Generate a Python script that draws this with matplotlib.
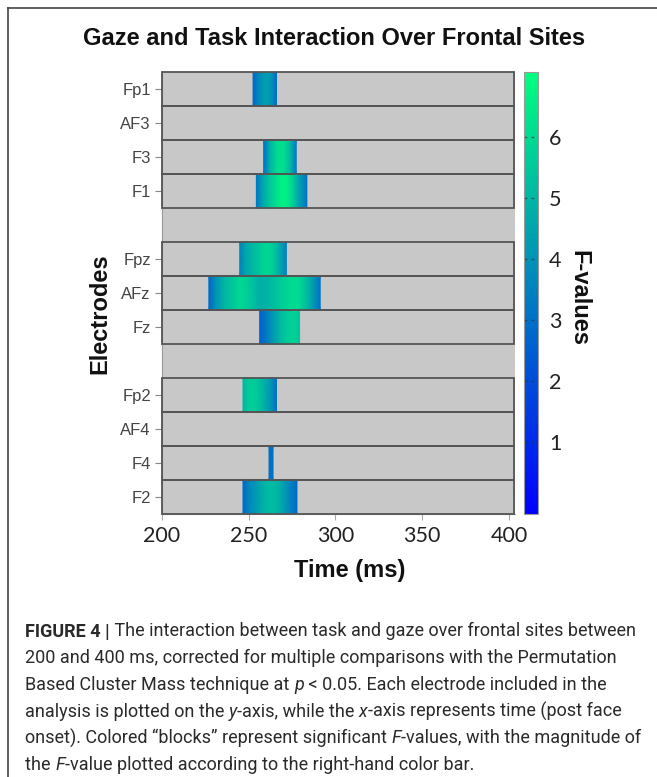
import matplotlib
matplotlib.use('Agg')
import matplotlib.pyplot as plt
import numpy as np
from matplotlib.patches import Rectangle
from matplotlib.lines import Line2D
from matplotlib.colors import Normalize
from matplotlib.cm import ScalarMappable

W, H = 657, 777

# electrode rows, top to bottom ('' = spacer row)
electrodes = ['Fp1', 'AF3', 'F3', 'F1', '', 'Fpz', 'AFz', 'Fz', '', 'Fp2', 'AF4', 'F4', 'F2']

# significant clusters: sample times (ms) and F-values
fp1_t = [252.5, 256, 260, 263, 266]
fp1_f = [2.8, 3.8, 4.4, 4.0, 2.9]
f3_t = [258.6, 262, 266, 270, 274, 277.4]
f3_f = [3.0, 4.8, 6.0, 6.2, 5.0, 3.2]
f1_t = [254.4, 258, 262, 266, 270, 274, 278, 283.5]
f1_f = [3.2, 4.5, 5.5, 6.2, 6.8, 6.2, 4.8, 3.0]
fpz_t = [244.8, 248, 252, 256, 260, 264, 268, 271.7]
fpz_f = [3.5, 4.5, 5.0, 5.5, 6.0, 5.6, 4.6, 3.5]
afz_t = [227, 231, 236, 241, 245, 250, 256, 262, 268, 274, 279, 284, 288, 291.2]
afz_f = [2.8, 4.0, 5.0, 5.5, 6.0, 5.6, 4.8, 5.0, 5.6, 6.0, 6.0, 5.0, 4.0, 3.0]
fz_t = [256.3, 260, 264, 268, 272, 276, 279.3]
fz_f = [2.6, 3.2, 4.2, 5.0, 5.6, 5.8, 5.4]
fp2_t = [246.7, 250, 254, 258, 262, 266]
fp2_f = [5.0, 5.6, 5.6, 5.0, 4.2, 3.0]
f4_t = [261.7, 264]
f4_f = [3.0, 3.0]
f2_t = [246.7, 250, 254, 258, 262, 266, 270, 274, 277.8]
f2_f = [2.8, 3.6, 4.2, 4.8, 5.2, 5.0, 4.4, 3.5, 2.8]

clusters = {
    'Fp1': (fp1_t, fp1_f), 'F3': (f3_t, f3_f), 'F1': (f1_t, f1_f),
    'Fpz': (fpz_t, fpz_f), 'AFz': (afz_t, afz_f), 'Fz': (fz_t, fz_f),
    'Fp2': (fp2_t, fp2_f), 'F4': (f4_t, f4_f), 'F2': (f2_t, f2_f),
}

f_min, f_max = -0.19, 7.07
cbar_ticks = [1, 2, 3, 4, 5, 6]
x_ticks = [200, 250, 300, 350, 400]

caption = [
    [("FIGURE 4 |", 'b'), (" The interaction between task and gaze over frontal sites between", 'n')],
    [("200 and 400 ms, corrected for multiple comparisons with the Permutation", 'n')],
    [("Based Cluster Mass technique at ", 'n'), ("p", 'i'), (" < 0.05. Each electrode included in the", 'n')],
    [("analysis is plotted on the ", 'n'), ("y", 'i'), ("-axis, while the ", 'n'), ("x", 'i'),
     ("-axis represents time (post face", 'n')],
    [("onset). Colored \u201cblocks\u201d represent significant ", 'n'), ("F", 'i'),
     ("-values, with the magnitude of", 'n')],
    [("the ", 'n'), ("F", 'i'), ("-value plotted according to the right-hand color bar.", 'n')],
]


def fx(px):
    return px / W


def fy(py):
    return 1 - py / H


fig = plt.figure(figsize=(W / 100, H / 100), dpi=100)
fig.patch.set_facecolor('white')

# outer frame of the figure panel
fig.add_artist(Line2D([fx(8), fx(657)], [fy(8), fy(8)], color='#444444', lw=1.2))
fig.add_artist(Line2D([fx(8), fx(8)], [fy(8), fy(777)], color='#444444', lw=1.2))

norm = Normalize(f_min, f_max)
cmap = plt.get_cmap('winter')

ax = fig.add_axes([fx(162), fy(514), fx(515) - fx(162), (514 - 72) / H])
ax.set_facecolor('#c8c8c8')
ax.set_xlim(200, 403.5)
ax.set_ylim(len(electrodes) - 0.5, -0.5)

for i, name in enumerate(electrodes):
    if name in clusters:
        t, f = clusters[name]
        t = np.asarray(t)
        f = np.asarray(f)
        X = np.vstack([t, t])
        Y = np.vstack([np.full(len(t), i - 0.5), np.full(len(t), i + 0.5)])
        C = np.vstack([f, f])
        ax.pcolormesh(X, Y, C, shading='gouraud', cmap=cmap, norm=norm, zorder=2)
    if name:
        ax.add_patch(Rectangle((200, i - 0.5), 203, 1, facecolor='none',
                               edgecolor='#555555', lw=1.3, zorder=3, clip_on=False))

ticked = [i for i, n in enumerate(electrodes) if n]
ax.set_yticks(ticked)
ax.set_yticklabels([electrodes[i] for i in ticked], fontsize=12, color='#444444',
                   family=['Liberation Sans', 'DejaVu Sans'])
ax.set_xticks(x_ticks)
ax.set_xticklabels([str(v) for v in x_ticks], fontsize=15.5, color='#222222',
                   family=['Lato', 'DejaVu Sans'])
ax.tick_params(axis='y', length=5, color='#888888', pad=3)
ax.tick_params(axis='x', length=4, color='#aaaaaa', pad=5)
for side in ['top', 'right']:
    ax.spines[side].set_visible(False)
ax.spines['left'].set_color('#999999')
ax.spines['bottom'].set_color('#aaaaaa')

# colorbar
cax = fig.add_axes([fx(524), fy(514), fx(538) - fx(524), (514 - 72) / H])
cb = fig.colorbar(ScalarMappable(norm=norm, cmap=cmap), cax=cax, ticks=cbar_ticks)
cb.outline.set_edgecolor('#999999')
cb.outline.set_linewidth(0.8)
cax.tick_params(length=0, pad=8, labelsize=15.5, labelcolor='#222222')
for lab in cax.get_yticklabels():
    lab.set_family(['Lato', 'DejaVu Sans'])
cax.hlines(cbar_ticks, 0, 1, colors='#333333', lw=1, linestyles=(0, (2, 3)), alpha=0.7,
           transform=cax.get_yaxis_transform())

# titles and axis labels
bold = dict(family=['Liberation Sans', 'DejaVu Sans'], fontweight='bold', color='#111111')
fig.text(fx(334), fy(45), "Gaze and Task Interaction Over Frontal Sites", ha='center',
         va='baseline', fontsize=17, **bold)
fig.text(fx(350), fy(577), "Time (ms)", ha='center', va='baseline', fontsize=17, **bold)
fig.text(fx(100), fy(314), "Electrodes", ha='center', va='center', rotation=90,
         fontsize=17, **bold)
fig.text(fx(579), fy(298), "F-values", ha='center', va='center', rotation=-90,
         fontsize=17, **bold)

# caption with mixed bold / italic runs
renderer = fig.canvas.get_renderer()
cap_size = 13.0
baselines = [636.5, 663.2, 690, 716.7, 743.3, 770]
for runs, base in zip(caption, baselines):
    x = 25
    for text, style in runs:
        kw = dict(fontsize=cap_size, color='#2a2a2a', va='baseline', ha='left',
                  family=['Roboto', 'DejaVu Sans'])
        kw['fontweight'] = 'bold' if style == 'b' else 'normal'
        if style == 'i':
            kw['fontstyle'] = 'italic'
        t = fig.text(fx(x), fy(base), text, **kw)
        x += t.get_window_extent(renderer=renderer).width

fig.savefig('out.png', dpi=100)
